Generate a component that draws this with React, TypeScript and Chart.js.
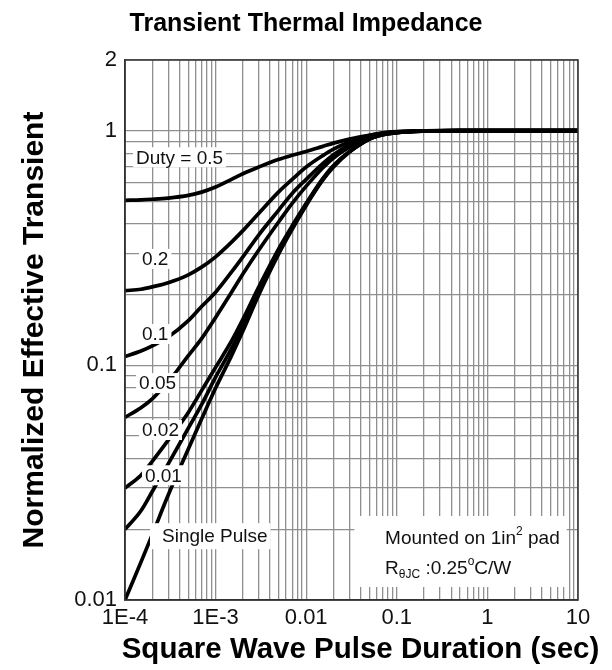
import React, { useEffect, useRef } from "react";
import { Chart, registerables } from "chart.js";

Chart.register(...registerables);

// Pulse duration (sec)
const pulseTimes = [
  1e-4, 1.5e-4, 2e-4, 3e-4, 5e-4, 7e-4, 1e-3, 1.5e-3, 2e-3, 3e-3, 5e-3, 7e-3,
  1e-2, 1.5e-2, 2e-2, 3e-2, 5e-2, 7e-2, 0.1, 0.2, 0.5, 1, 2, 5, 10,
];

// Normalized effective transient thermal impedance, per duty cycle
const duty05 = [0.505, 0.507, 0.51, 0.516, 0.53, 0.547, 0.575, 0.62, 0.655, 0.7, 0.755, 0.785, 0.815, 0.855, 0.885, 0.92, 0.955, 0.975, 0.988, 0.998, 1, 1, 1, 1, 1];
const duty02 = [0.208, 0.211, 0.216, 0.225, 0.243, 0.262, 0.29, 0.335, 0.375, 0.445, 0.55, 0.62, 0.7, 0.78, 0.835, 0.895, 0.955, 0.978, 0.99, 0.998, 1, 1, 1, 1, 1];
const duty01 = [0.109, 0.115, 0.121, 0.132, 0.155, 0.178, 0.205, 0.25, 0.29, 0.36, 0.46, 0.54, 0.62, 0.72, 0.79, 0.87, 0.945, 0.972, 0.987, 0.997, 1, 1, 1, 1, 1];
const duty005 = [0.06, 0.066, 0.072, 0.085, 0.11, 0.13, 0.16, 0.205, 0.245, 0.31, 0.41, 0.49, 0.58, 0.69, 0.765, 0.85, 0.935, 0.967, 0.984, 0.996, 1, 1, 1, 1, 1];
const duty002 = [0.03, 0.034, 0.039, 0.048, 0.063, 0.078, 0.098, 0.127, 0.157, 0.216, 0.315, 0.393, 0.49, 0.62, 0.71, 0.815, 0.922, 0.961, 0.981, 0.995, 1, 1, 1, 1, 1];
const duty001 = [0.02, 0.024, 0.029, 0.038, 0.054, 0.068, 0.089, 0.118, 0.148, 0.207, 0.307, 0.386, 0.485, 0.615, 0.705, 0.812, 0.921, 0.96, 0.98, 0.995, 1, 1, 1, 1, 1];
const singlePulse = [0.01, 0.0145, 0.019, 0.028, 0.044, 0.059, 0.08, 0.11, 0.14, 0.2, 0.3, 0.38, 0.48, 0.61, 0.7, 0.81, 0.92, 0.96, 0.98, 0.995, 1, 1, 1, 1, 1];

const seriesValues = [duty05, duty02, duty01, duty005, duty002, duty001, singlePulse];

// In-plot curve labels and their anchors (data coordinates: left edge, vertical centre)
const curveLabels = ["Duty = 0.5", "0.2", "0.1", "0.05", "0.02", "0.01", "Single Pulse"];
const curveLabelX = [1.32e-4, 1.54e-4, 1.54e-4, 1.43e-4, 1.54e-4, 1.66e-4, 2.56e-4];
const curveLabelY = [0.77, 0.284, 0.136, 0.084, 0.053, 0.034, 0.0187];

// Axis ticks and titles
const xMajorTicks = [1e-4, 1e-3, 1e-2, 0.1, 1, 10];
const xTickLabels = ["1E-4", "1E-3", "0.01", "0.1", "1", "10"];
const yMajorTicks = [0.01, 0.1, 1, 2];
const yTickLabels = ["0.01", "0.1", "1", "2"];
const xAxisTitle = "Square Wave Pulse Duration (sec)";

const xGrid: number[] = [];
for (let d = -4; d < 1; d++) {
  for (let m = 1; m <= 9; m++) xGrid.push(m * Math.pow(10, d));
}
xGrid.push(10);

const yGrid: number[] = [];
for (let d = -2; d < 0; d++) {
  for (let m = 1; m <= 9; m++) yGrid.push(m * Math.pow(10, d));
}
yGrid.push(1, 2);

const FONT = '"Liberation Sans", Arial, Helvetica, sans-serif';

function labelFor(value: number, majors: number[], labels: string[]) {
  for (let i = 0; i < majors.length; i++) {
    if (Math.abs(Math.log10(value) - Math.log10(majors[i])) < 1e-6) return labels[i];
  }
  return "";
}

const annotationPlugin = {
  id: "curveAnnotations",
  afterDatasetsDraw(chart: any) {
    const { ctx, scales, chartArea } = chart;
    const xs = scales.x;
    const ys = scales.y;
    ctx.save();
    ctx.textBaseline = "middle";
    ctx.textAlign = "left";
    ctx.font = `19px ${FONT}`;
    curveLabels.forEach((t, i) => {
      const px = xs.getPixelForValue(curveLabelX[i]);
      const py = ys.getPixelForValue(curveLabelY[i]);
      const w = ctx.measureText(t).width;
      const last = i === curveLabels.length - 1;
      const padL = last ? 12 : 3;
      const padR = 3;
      ctx.fillStyle = "#ffffff";
      if (last) ctx.fillRect(px - padL, py - 13, w + padL + padR, 26);
      else ctx.fillRect(px - padL, py - 10, w + padL + padR, 20);
      ctx.fillStyle = "#111";
      ctx.fillText(t, px, py + 1);
    });

    // Mounting note box
    const bx0 = xs.getPixelForValue(0.034);
    const bx1 = xs.getPixelForValue(7.5);
    const by0 = ys.getPixelForValue(0.0228);
    const by1 = ys.getPixelForValue(0.01136);
    ctx.fillStyle = "#ffffff";
    ctx.fillRect(bx0, by0, bx1 - bx0, by1 - by0);

    const tx = xs.getPixelForValue(0.0742);
    const l1 = ys.getPixelForValue(0.0182);
    const l2 = ys.getPixelForValue(0.0136);
    ctx.fillStyle = "#111";
    let cx = tx;
    const big = `19px ${FONT}`;
    const small = `12px ${FONT}`;
    const seg = (text: string, font: string, dy: number) => {
      ctx.font = font;
      ctx.fillText(text, cx, dy);
      cx += ctx.measureText(text).width;
    };
    seg("Mounted on 1in", big, l1);
    seg("2", small, l1 - 7);
    seg(" pad", big, l1);
    cx = tx;
    seg("R", big, l2);
    seg("θJC", small, l2 + 6);
    seg(" :0.25", big, l2);
    seg("o", small, l2 - 7);
    seg("C/W", big, l2);

    // Plot frame
    ctx.strokeStyle = "#333";
    ctx.lineWidth = 1.5;
    ctx.strokeRect(chartArea.left, chartArea.top, chartArea.right - chartArea.left, chartArea.bottom - chartArea.top);
    ctx.restore();
  },
  afterDraw(chart: any) {
    const { ctx, chartArea } = chart;
    ctx.save();
    ctx.font = `bold 29.5px ${FONT}`;
    ctx.fillStyle = "#000";
    ctx.textAlign = "center";
    ctx.textBaseline = "middle";
    ctx.fillText(xAxisTitle, (chartArea.left + chartArea.right) / 2 + 9, chartArea.bottom + 50);
    ctx.restore();
  },
};

export default function App() {
  const canvasRef = useRef<HTMLCanvasElement | null>(null);

  useEffect(() => {
    if (!canvasRef.current) return;
    const datasets = seriesValues.map((vals, i) => ({
      label: curveLabels[i],
      data: pulseTimes.map((t, j) => ({ x: t, y: vals[j] })),
      borderColor: "#000",
      borderWidth: 3.7,
      pointRadius: 0,
      fill: false,
      cubicInterpolationMode: "monotone" as const,
    }));

    const chart = new Chart(canvasRef.current, {
      type: "line",
      data: { datasets },
      plugins: [annotationPlugin],
      options: {
        animation: false,
        responsive: false,
        maintainAspectRatio: false,
        layout: { padding: 0 },
        plugins: {
          legend: { display: false },
          tooltip: { enabled: false },
          title: {
            display: true,
            text: "Transient Thermal Impedance",
            color: "#000",
            font: { family: FONT, size: 25, weight: "bold" },
            padding: { top: 9, bottom: 21 },
          },
        },
        scales: {
          x: {
            type: "logarithmic",
            min: 1e-4,
            max: 10,
            afterBuildTicks: (scale: any) => {
              scale.ticks = xGrid.map((v) => ({ value: v }));
            },
            afterFit: (scale: any) => {
              scale.height = 70;
            },
            ticks: {
              autoSkip: false,
              maxRotation: 0,
              padding: 5,
              color: "#111",
              font: { family: FONT, size: 22 },
              callback: (v: any) => labelFor(Number(v), xMajorTicks, xTickLabels),
            },
            grid: { color: "#8f8f8f", lineWidth: 1.3, drawTicks: false },
            border: { display: true, color: "#333", width: 1.5 },
            title: { display: false, text: xAxisTitle },
          },
          y: {
            type: "logarithmic",
            min: 0.01,
            max: 2,
            afterBuildTicks: (scale: any) => {
              scale.ticks = yGrid.map((v) => ({ value: v }));
            },
            afterFit: (scale: any) => {
              scale.width = 125;
            },
            ticks: {
              autoSkip: false,
              padding: 8,
              color: "#111",
              font: { family: FONT, size: 22 },
              callback: (v: any) => labelFor(Number(v), yMajorTicks, yTickLabels),
            },
            grid: { color: "#8f8f8f", lineWidth: 1.3, drawTicks: false },
            border: { display: true, color: "#333", width: 1.5 },
            title: {
              display: true,
              text: "Normalized Effective Transient",
              color: "#000",
              font: { family: FONT, size: 30, weight: "bold" },
              padding: { top: 17, bottom: 0 },
            },
          },
          yRight: {
            type: "linear",
            position: "right",
            display: true,
            grid: { display: false, drawTicks: false },
            border: { display: false },
            ticks: { display: false },
            afterFit: (scale: any) => {
              scale.width = 34;
            },
          },
        },
      } as any,
    });
    return () => chart.destroy();
  }, []);

  return (
    <div style={{ position: "absolute", left: 0, top: 0, width: 612, height: 670, background: "#fff" }}>
      <canvas ref={canvasRef} width={612} height={670} style={{ display: "block" }} />
    </div>
  );
}
